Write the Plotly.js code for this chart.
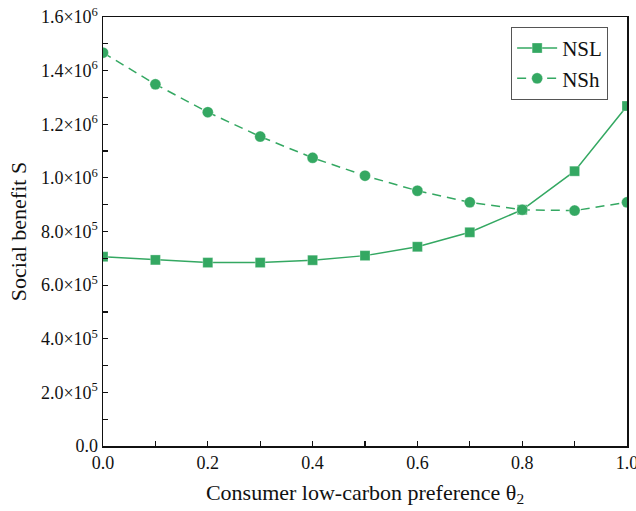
<!DOCTYPE html>
<html><head><meta charset="utf-8">
<script src="https://cdn.plot.ly/plotly-3.0.1.min.js"></script>
<style>html,body{margin:0;padding:0;background:#fff}#c{width:636px;height:511px}</style>
</head><body><div id="c"></div>
<script>
const theta = [0.0, 0.1, 0.2, 0.3, 0.4, 0.5, 0.6, 0.7, 0.8, 0.9, 1.0];
const NSL = [706000, 694000, 684000, 684000, 693000, 710000, 743000, 797000, 881000, 1025000, 1268000];
const NSh = [1467000, 1349000, 1245000, 1154000, 1075000, 1008000, 952000, 909000, 881000, 878000, 909000];
const yTickVals = [0, 200000, 400000, 600000, 800000, 1000000, 1200000, 1400000, 1600000];
const yTickText = ['0.0', '2.0×10<sup>5</sup>', '4.0×10<sup>5</sup>', '6.0×10<sup>5</sup>', '8.0×10<sup>5</sup>',
  '1.0×10<sup>6</sup>', '1.2×10<sup>6</sup>', '1.4×10<sup>6</sup>', '1.6×10<sup>6</sup>'];
const xTickVals = [0, 0.2, 0.4, 0.6, 0.8, 1.0];
const xTickText = ['0.0', '0.2', '0.4', '0.6', '0.8', '1.0'];

const green = 'rgb(52,168,98)';
const font = 'Liberation Serif';

const traces = [
  {x: theta, y: NSL, name: 'NSL', mode: 'lines+markers', type: 'scatter',
   line: {color: green, width: 1.5},
   marker: {symbol: 'square', size: 10, color: green, line: {color: 'rgba(255,255,255,0.6)', width: 0.5}}},
  {x: theta, y: NSh, name: 'NSh', mode: 'lines+markers', type: 'scatter',
   line: {color: green, width: 1.5, dash: '9px,6px'},
   marker: {symbol: 'circle', size: 11, color: green, line: {color: 'rgba(255,255,255,0.6)', width: 0.5}}}
];

const layout = {
  width: 636, height: 511,
  margin: {l: 103, r: 9, t: 17, b: 65},
  paper_bgcolor: '#fff', plot_bgcolor: '#fff',
  font: {family: font, size: 16, color: '#111'},
  showlegend: true,
  legend: {x: 0.964, y: 0.977, xanchor: 'right', yanchor: 'top', bordercolor: '#555', borderwidth: 1,
    bgcolor: '#fff', font: {family: font, size: 21, color: '#111'}, tracegroupgap: 0, itemwidth: 40},
  xaxis: {
    range: [0, 1], tickvals: xTickVals, ticktext: xTickText, ticklabeloverflow: 'allow',
    ticks: 'inside', ticklen: 5, tickwidth: 1.2, tickcolor: '#111',
    minor: {dtick: 0.1, ticks: 'inside', ticklen: 5, tickwidth: 1.2, tickcolor: '#111', showgrid: false},
    showline: true, linecolor: '#111', linewidth: 1.5, mirror: true,
    showgrid: false, zeroline: false, automargin: false,
    tickfont: {family: font, size: 18, color: '#111'},
    title: {text: 'Consumer low-carbon preference θ<sub>2</sub>', font: {family: font, size: 22, color: '#111'}, standoff: 12}
  },
  yaxis: {
    range: [0, 1600000], tickvals: yTickVals, ticktext: yTickText, ticklabeloverflow: 'allow',
    ticks: 'inside', ticklen: 5, tickwidth: 1.2, tickcolor: '#111',
    minor: {dtick: 100000, ticks: 'inside', ticklen: 5, tickwidth: 1.2, tickcolor: '#111', showgrid: false},
    showline: true, linecolor: '#111', linewidth: 1.5, mirror: true,
    showgrid: false, zeroline: false, automargin: false,
    tickfont: {family: font, size: 18, color: '#111'},
    title: {text: 'Social benefit S', font: {family: font, size: 22, color: '#111'}, standoff: 8}
  }
};
Plotly.newPlot('c', traces, layout, {displayModeBar: false, staticPlot: true});
</script></body></html>
